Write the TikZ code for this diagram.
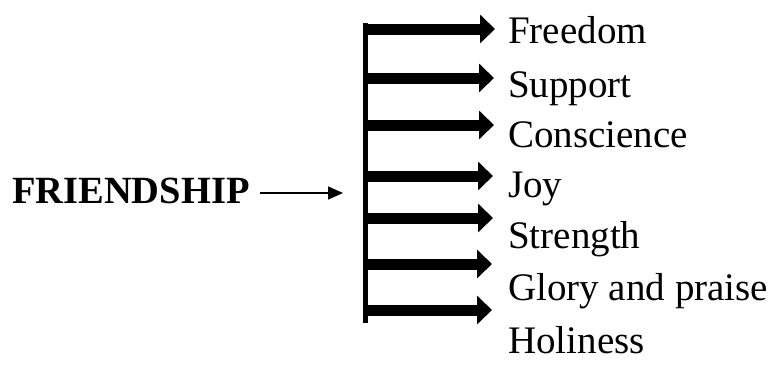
\documentclass[tikz,border=0pt]{standalone}
\usepackage{fontspec}
\setmainfont{Liberation Serif}
\usetikzlibrary{arrows.meta}
\tikzset{
  item/.style={anchor=base west, inner sep=0pt, font=\fontsize{39}{39}\selectfont},
  fatarrow/.style={line width=11pt, -{Triangle[length=15pt,width=28pt]}},
  thinarrow/.style={line width=1.4pt, -{Triangle[length=15pt,width=13pt]}},
  bar/.style={line width=5pt}
}
\begin{document}
\begin{tikzpicture}[x=1pt,y=-1pt]
\useasboundingbox (0,0) rectangle (772,367);
\node[anchor=base west, inner sep=0pt, font=\fontsize{38.5}{38.5}\selectfont\bfseries] (f) at (12,203) {FRIENDSHIP};
\coordinate (fend) at (343,193);
\draw[thinarrow] ([xshift=10pt]f.east |- fend) -- (fend);
\coordinate (top) at (365.5,23);
\coordinate (bot) at (365.5,323);
\draw[bar] (top) -- (bot);
\foreach \y/\t [count=\i] in {29/495,78/494,125/494,176/493,218/493,264/492,310/492}{
  \coordinate (s\i) at (363,\y);
  \coordinate (t\i) at (\t,\y);
  \draw[fatarrow] (s\i) -- (t\i);
}
\node[item] (l1) at (508,43) {Freedom};
\node[item] (l2) at (508,97) {Support};
\node[item] (l3) at (508,147) {Conscience};
\node[item] (l4) at (508,197) {Joy};
\node[item] (l5) at (508,248) {Strength};
\node[item] (l6) at (508,300) {Glory and praise};
\node[item] (l7) at (508,353) {Holiness};
\end{tikzpicture}
\end{document}
